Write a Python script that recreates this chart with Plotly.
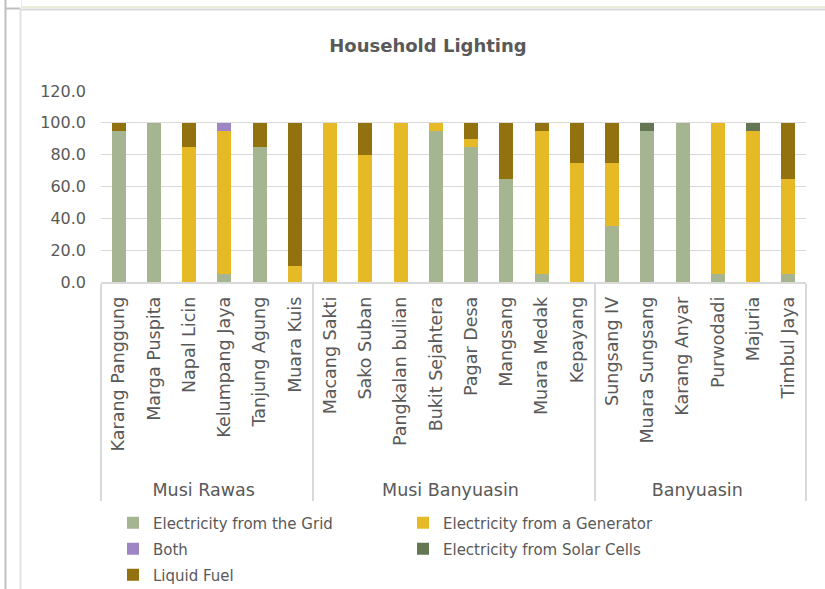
import plotly.graph_objects as go

# Villages grouped by regency
regencies = ["Musi Rawas"] * 6 + ["Musi Banyuasin"] * 8 + ["Banyuasin"] * 6
villages = [
    "Karang Panggung", "Marga Puspita", "Napal Licin", "Kelumpang Jaya", "Tanjung Agung", "Muara Kuis",
    "Macang Sakti", "Sako Suban", "Pangkalan bulian", "Bukit Sejahtera", "Pagar Desa", "Mangsang",
    "Muara Medak", "Kepayang",
    "Sungsang IV", "Muara Sungsang", "Karang Anyar", "Purwodadi", "Majuria", "Timbul Jaya",
]

# Share of households (%) by main lighting source
grid      = [95, 100, 0, 5, 85, 0,   0, 0, 0, 95, 85, 65, 5, 0,   35, 95, 100, 5, 0, 5]
generator = [0, 0, 85, 90, 0, 10,    100, 80, 100, 5, 5, 0, 90, 75,   40, 0, 0, 95, 95, 60]
both      = [0, 0, 0, 5, 0, 0,       0, 0, 0, 0, 0, 0, 0, 0,   0, 0, 0, 0, 0, 0]
solar     = [0, 0, 0, 0, 0, 0,       0, 0, 0, 0, 0, 0, 0, 0,   0, 5, 0, 0, 5, 0]
fuel      = [5, 0, 15, 0, 15, 90,    0, 20, 0, 0, 10, 35, 5, 25,   25, 0, 0, 0, 0, 35]

# name, values, colour, legend row
series = [
    ("Electricity from the Grid", grid, "#A5B592", "legend"),
    ("Electricity from a Generator", generator, "#E6BA27", "legend"),
    ("Both", both, "#9D86C3", "legend2"),
    ("Electricity from Solar Cells", solar, "#647653", "legend2"),
    ("Liquid Fuel", fuel, "#91720F", "legend3"),
]

FONT = "DejaVu Sans"
GREY = "#595959"
LINE = "#D9D9D9"

# rotated village labels get a little leading room so the regency row sits lower
village_ticks = ["\u00a0\u00a0\u00a0" + v for v in villages]

fig = go.Figure()
for name, vals, color, leg in series:
    fig.add_trace(go.Bar(
        name=name,
        x=[regencies, village_ticks],
        y=vals,
        marker=dict(color=color, line=dict(width=0)),
        legend=leg,
    ))

W, H = 825, 589
L, R, T, B = 101, 19, 91, 307
pw, ph = W - L - R, H - T - B


def px_x(px):
    return (px - L) / pw


def px_y(py):
    return (H - B - py) / ph


# Surrounding worksheet frame lines
frame = [
    dict(x0=px_x(5.5), x1=px_x(5.5), y0=px_y(0), y1=px_y(H), color="#C0C0C0", w=2),
    dict(x0=px_x(5), x1=px_x(20), y0=px_y(8.5), y1=px_y(8.5), color="#C0C0C0", w=2),
    dict(x0=px_x(20.5), x1=px_x(20.5), y0=px_y(9), y1=px_y(H), color="#E3E3E3", w=2),
    dict(x0=px_x(21), x1=px_x(W), y0=px_y(7), y1=px_y(7), color="#E8ECD9", w=2),
    dict(x0=px_x(20), x1=px_x(W), y0=px_y(9.5), y1=px_y(9.5), color="#D9D9D9", w=2),
    dict(x0=px_x(21.5), x1=px_x(21.5), y0=px_y(0), y1=px_y(7), color="#E8ECD9", w=1),
]
shapes = [
    dict(type="line", xref="paper", yref="paper", x0=f["x0"], x1=f["x1"], y0=f["y0"], y1=f["y1"],
         line=dict(color=f["color"], width=f["w"]), layer="below")
    for f in frame
]


def legend_row(py):
    return dict(
        orientation="h",
        x=px_x(113), xanchor="left",
        y=px_y(py), yanchor="middle",
        entrywidth=245,
        font=dict(family=FONT, size=15, color=GREY),
        traceorder="normal",
        itemwidth=30,
        bgcolor="rgba(0,0,0,0)",
    )


fig.update_layout(
    width=W, height=H,
    margin=dict(l=L, r=R, t=T, b=B, pad=0, autoexpand=False),
    paper_bgcolor="white",
    plot_bgcolor="white",
    barmode="stack",
    bargap=0.6,
    font=dict(family=FONT, color=GREY, size=15),
    title=dict(
        text="<b>Household Lighting</b>",
        font=dict(family=FONT, size=18, color=GREY),
        x=428 / W, xref="container", xanchor="center",
        y=1 - 46 / H, yref="container", yanchor="middle",
    ),
    xaxis=dict(
        type="multicategory",
        tickangle=-90,
        tickfont=dict(family=FONT, size=17.5, color=GREY),
        showline=True, linecolor=LINE, linewidth=1.5,
        showgrid=False,
        ticks="",
        showdividers=True, dividercolor=LINE, dividerwidth=1.5,
        ticklabelstandoff=6,
        automargin=False,
    ),
    yaxis=dict(
        range=[0, 120],
        dtick=20,
        tickformat=".1f",
        showgrid=True, gridcolor=LINE, gridwidth=1.3,
        zeroline=False,
        showline=False,
        tickfont=dict(family=FONT, size=16, color=GREY),
        ticklabelstandoff=14,
        automargin=False,
    ),
    legend=legend_row(523),
    legend2=legend_row(549),
    legend3=legend_row(575),
    shapes=shapes,
    showlegend=True,
)

fig.write_html("out.html")
